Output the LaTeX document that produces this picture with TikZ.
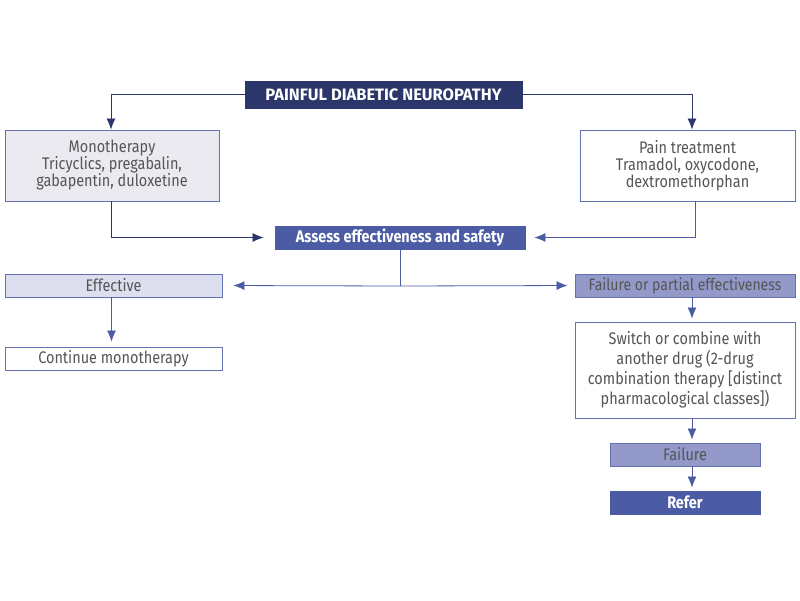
\documentclass[tikz,border=0pt]{standalone}
\usepackage{fontspec}
\setmainfont{Fira Sans}[FakeStretch=0.86]
\newfontfamily\titlefont{Fira Sans}
\usetikzlibrary{arrows.meta,calc}
\definecolor{navy}{HTML}{2B376B}
\definecolor{midblue}{HTML}{4B5CA5}
\definecolor{lightfill}{HTML}{DDDFEF}
\definecolor{monofill}{HTML}{EAEAF0}
\definecolor{purpfill}{HTML}{9399C9}
\definecolor{bord}{HTML}{6570B0}
\definecolor{txt}{HTML}{555555}
\tikzset{
  box/.style={draw=bord, line width=0.9pt, rectangle, align=center, inner sep=2pt, text=txt, font=\fontsize{16.8}{17}\selectfont},
  darkbox/.style={box, draw=navy, fill=navy, text=white, font=\titlefont\fontsize{16.5}{17}\selectfont\bfseries},
  bluebox/.style={box, draw=midblue, fill=midblue, text=white, font=\fontsize{16.8}{17}\selectfont\bfseries},
  navyarrow/.style={draw=navy, line width=0.8pt, -{Latex[length=11pt,width=9pt]}},
  bluearrow/.style={draw=midblue, line width=0.8pt, -{Latex[length=11pt,width=9pt]}},
}
\begin{document}
\begin{tikzpicture}[x=1pt,y=-1pt]
\useasboundingbox (0,0) rectangle (800,600);
\node[darkbox, minimum width=277pt, minimum height=27pt] (title) at (383.5,94.5) {PAINFUL DIABETIC NEUROPATHY};
\node[box, fill=monofill, minimum width=214pt, minimum height=71pt] (mono) at (112,165.5) {Monotherapy\\Tricyclics, pregabalin,\\gabapentin, duloxetine};
\node[box, fill=white, minimum width=215pt, minimum height=71pt] (pain) at (687.5,165.5) {Pain treatment\\Tramadol, oxycodone,\\dextromethorphan};
\node[bluebox, minimum width=250pt, minimum height=23pt] (assess) at (400,237.5) {Assess effectiveness and safety};
\node[box, fill=lightfill, minimum width=217pt, minimum height=23pt] (eff) at (113.5,285.5) {Effective};
\node[box, fill=white, minimum width=217pt, minimum height=23pt] (cont) at (113.5,358.5) {Continue monotherapy};
\node[box, fill=purpfill, minimum width=220pt, minimum height=23pt, font=\fontsize{16.3}{17}\selectfont] (failp) at (685,285.5) {Failure or partial effectiveness};
\node[box, fill=white, minimum width=220pt, minimum height=96pt, font=\fontsize{16.8}{20}\selectfont] (switch) at (685,370) {Switch or combine with\\another drug (2-drug\\combination therapy [distinct\\pharmacological classes])};
\node[box, fill=purpfill, minimum width=150pt, minimum height=23pt] (fail) at (685,454.5) {Failure};
\node[bluebox, minimum width=150pt, minimum height=23pt] (refer) at (685,502.5) {Refer};
\coordinate (split) at (400,286);
\draw[navyarrow] (title.west) -| ([xshift=-1pt]mono.north);
\draw[navyarrow] (title.east) -| ([xshift=4.5pt]pain.north);
\draw[navyarrow, shorten >=11pt] ([xshift=-1pt]mono.south) |- (assess.west);
\draw[bluearrow, shorten >=9pt] ([xshift=7.5pt]pain.south) |- (assess.east);
\draw[bluearrow, -] (assess.south) -- (split);
\draw[bluearrow, shorten >=11pt] (split) -- (eff.east);
\draw[bluearrow, shorten >=7pt] (split) -- (failp.west);
\draw[bluearrow, shorten >=5pt] ([xshift=-2pt]eff.south) -- ([xshift=-2pt]cont.north);
\draw[bluearrow, shorten >=3pt] ([xshift=7pt]failp.south) -- ([xshift=7pt]switch.north);
\draw[bluearrow, shorten >=3pt] ([xshift=7pt]switch.south) -- ([xshift=7pt]fail.north);
\draw[bluearrow, shorten >=3pt] ([xshift=7pt]fail.south) -- ([xshift=7pt]refer.north);
\end{tikzpicture}
\end{document}
